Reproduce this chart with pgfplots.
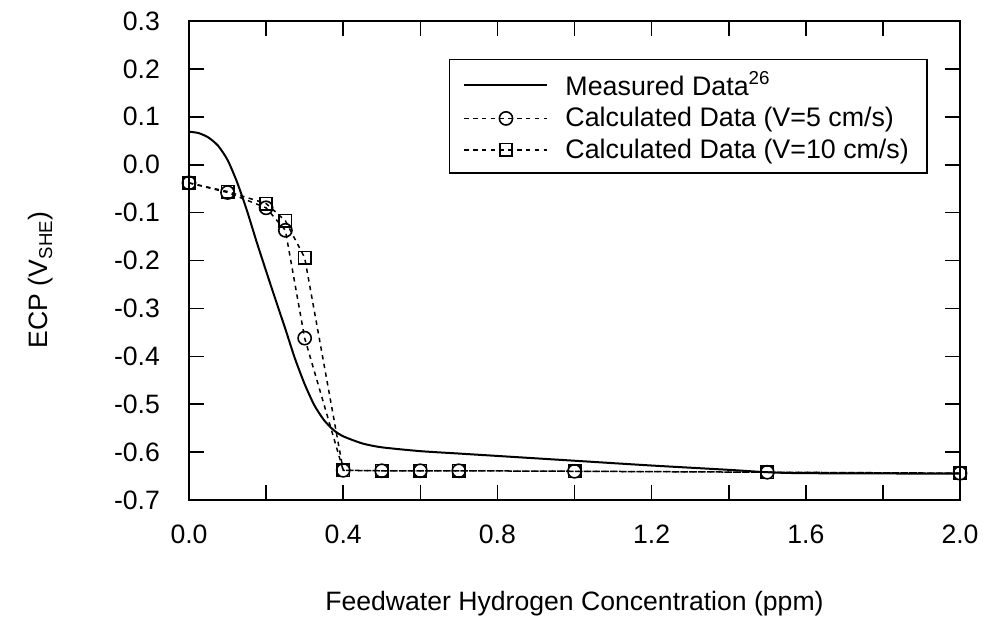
\documentclass[border=0pt]{standalone}
\usepackage{pgfplots}
\pgfplotsset{compat=1.18}
\usepackage{fontspec}
\setmainfont{Liberation Sans}
\usetikzlibrary{calc}
\begin{document}
\begin{tikzpicture}
\begin{axis}[name=ax, scale only axis, width=385.5pt, height=239.5pt,
  xmin=0, xmax=2, ymin=-0.7, ymax=0.3,
  xtick={0,0.2,0.4,0.6,0.8,1.0,1.2,1.4,1.6,1.8,2.0},
  xticklabels={0.0,,0.4,,0.8,,1.2,,1.6,,2.0},
  ytick={-0.7,-0.6,-0.5,-0.4,-0.3,-0.2,-0.1,0,0.1,0.2,0.3},
  yticklabels={-0.7,-0.6,-0.5,-0.4,-0.3,-0.2,-0.1,0.0,0.1,0.2,0.3},
  tick align=inside, major tick length=7.5pt,
  axis line style={line width=0.8pt},
  every tick/.style={line width=0.8pt, black},
  tick label style={font=\fontsize{13.3}{16}\selectfont},
  label style={font=\fontsize{13.3}{16}\selectfont},
  xticklabel style={yshift=-9pt},
  yticklabel style={xshift=-11pt},
  xlabel={Feedwater Hydrogen Concentration (ppm)},
  ylabel={ECP (V\textsubscript{SHE})},
  xlabel style={at={(axis description cs:0.5,-0.217)}, anchor=center},
  ylabel style={at={(axis description cs:-0.192,0.46)}, anchor=center},
  legend style={at={(0.958,0.921)}, anchor=north east, draw=black, line width=0.8pt,
    font=\fontsize{13.4}{15}\selectfont, row sep=0.5pt, inner xsep=7pt, inner ysep=4pt},
  legend cell align=left,
  legend image code/.code={\draw[mark repeat=2,mark phase=2,#1] plot coordinates {(0pt,0pt) (20.75pt,0pt) (41.5pt,0pt)};
    \path (48pt,0pt);},
]
\addplot[black, line width=1pt, smooth, tension=0.4] coordinates {
(0,0.069) (0.025,0.066) (0.05,0.057) (0.075,0.040) (0.1,0.010) (0.125,-0.037)
(0.15,-0.095) (0.175,-0.160) (0.2,-0.222) (0.225,-0.283) (0.25,-0.343)
(0.275,-0.405) (0.3,-0.458) (0.325,-0.502) (0.35,-0.533) (0.375,-0.554)
(0.4,-0.567) (0.45,-0.582) (0.5,-0.590) (0.6,-0.598) (0.7,-0.603)
(0.8,-0.608) (1.0,-0.618) (1.2,-0.628) (1.4,-0.637) (1.5,-0.642) (1.6,-0.644) (2.0,-0.645)};
\addlegendentry{Measured Data\textsuperscript{26}}
\addplot[black, line width=0.75pt, dash pattern=on 2.2pt off 2.2pt, mark=o, mark size=3.3pt,
  mark options={solid, line width=0.8pt}] coordinates {
(0,-0.038) (0.1,-0.058) (0.2,-0.090) (0.25,-0.137) (0.3,-0.362) (0.4,-0.638)
(0.5,-0.639) (0.6,-0.639) (0.7,-0.639) (1.0,-0.640) (1.5,-0.642) (2.0,-0.644)};
\addlegendentry{Calculated Data (V=5 cm/s)}
\addplot[black, line width=0.75pt, dash pattern=on 2.2pt off 2.2pt, mark=square, mark size=3.1pt,
  mark options={solid, line width=0.8pt}] coordinates {
(0,-0.038) (0.1,-0.056) (0.2,-0.081) (0.25,-0.117) (0.3,-0.194) (0.4,-0.638)
(0.5,-0.639) (0.6,-0.639) (0.7,-0.639) (1.0,-0.640) (1.5,-0.642) (2.0,-0.644)};
\addlegendentry{Calculated Data (V=10 cm/s)}
\end{axis}
\pgfresetboundingbox
\path[use as bounding box] ($(ax.south west)+(-94.5pt,-61.5pt)$) rectangle ($(ax.north east)+(12pt,10.5pt)$);
\end{tikzpicture}
\end{document}
